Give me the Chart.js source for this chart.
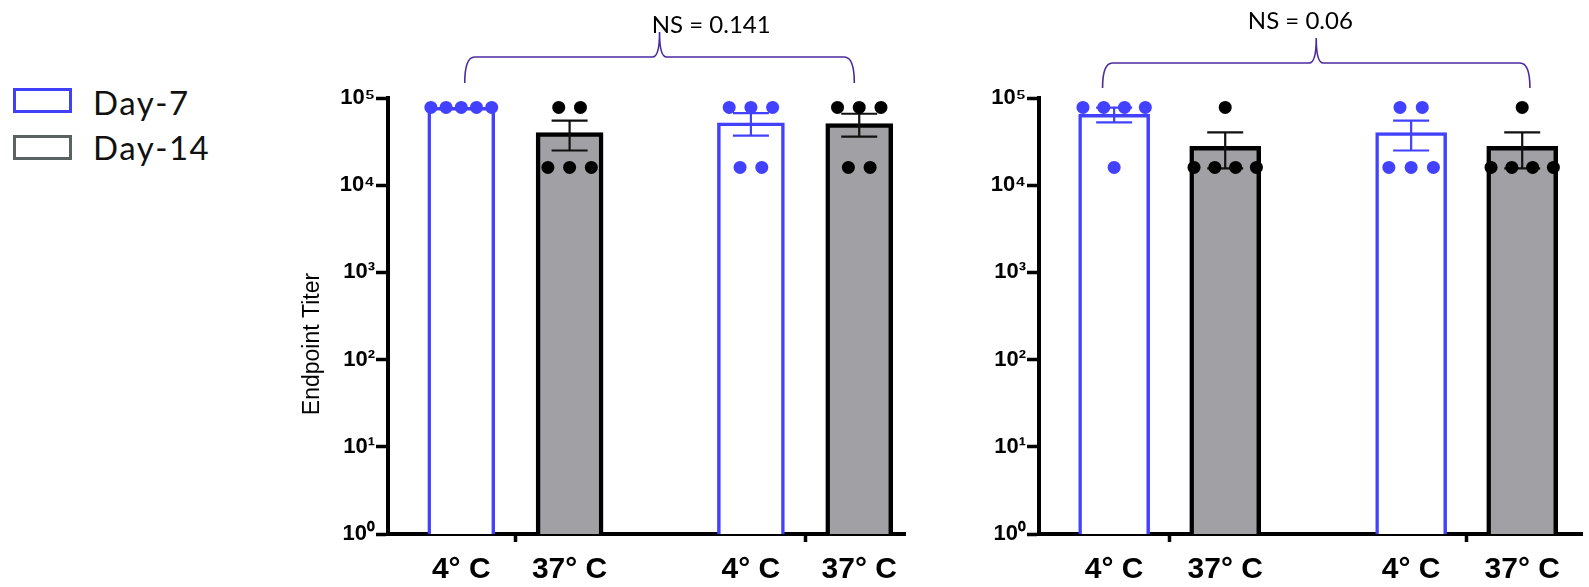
<!DOCTYPE html>
<html>
<head>
<meta charset="utf-8">
<script src="https://cdn.jsdelivr.net/npm/chart.js@4.4.1/dist/chart.umd.min.js"></script>
<style>
  body { margin: 0; background: #fff; width: 1589px; height: 587px; overflow: hidden; position: relative; }
  canvas { position: absolute; top: 0; }
  #leftChart { left: 270px; }
  #rightChart { left: 960px; }
  .box { position: absolute; left: 13px; width: 59px; height: 25px; box-sizing: border-box; border: 3px solid; }
  .txt { position: absolute; left: 93px; font-family: Lato, sans-serif; font-size: 33px; line-height: 33px; letter-spacing: 1.5px; color: #111; }
</style>
</head>
<body>
<div class="box" style="top:88px;border-color:#4040F8"></div>
<div class="txt" id="lg0" style="top:86px"></div>
<div class="box" style="top:135px;border-color:#5B6262"></div>
<div class="txt" id="lg1" style="top:131px"></div>
<canvas id="leftChart" width="650" height="587"></canvas>
<canvas id="rightChart" width="629" height="587"></canvas>
<script>
// values, endpoint titers on a log axis
const barLabels = ['4° C', '37° C', '4° C', '37° C'];
const seriesNames = ['Day-7', 'Day-14'];
const pLabels = ['NS = 0.141', 'NS = 0.06'];
const yTickValues = [1, 10, 100, 1000, 10000, 100000];

const leftMeans = [78000, 40000, 52000, 51000];
const leftSem = [0, 15000, 15000, 15000];
const leftPoints = [
    [78000, 78000, 78000, 78000, 78000],
    [78000, 78000, 16000, 16000, 16000],
    [78000, 78000, 78000, 16000, 16000],
    [78000, 78000, 78000, 16000, 16000]
];

const rightMeans = [65000, 28000, 40000, 28000];
const rightSem = [12500, 12400, 15000, 12400];
const rightPoints = [
    [78000, 78000, 78000, 78000, 16000],
    [78000, 16000, 16000, 16000, 16000],
    [78000, 78000, 16000, 16000, 16000],
    [78000, 16000, 16000, 16000, 16000]
];

const blue = '#4141FF';
const gray = '#A1A0A5';
const sup = ['⁰', '¹', '²', '³', '⁴', '⁵'];

document.getElementById('lg0').textContent = seriesNames[0];
document.getElementById('lg1').textContent = seriesNames[1];

// bar i sits left/right of its group centre (groups at x = 1 and 2)
function barX(i) {
    return Math.floor(i / 2) + 1 + (i % 2 ? 0.187 : -0.187);
}
const tickPos = [barX(0), 1, barX(1), barX(2), 2, barX(3)];
const tickBar = [0, -1, 1, 2, -1, 3];

function buildDatasets(means, sem, points, thick) {
    const sets = [];
    [0, 1].forEach(s => {
        const idx = [s, s + 2];
        sets.push({
            type: 'bar',
            label: seriesNames[s],
            order: 2,
            data: idx.map(i => ({x: barX(i), y: means[i]})),
            sem: idx.map(i => sem[i]),
            errorColor: s ? '#111' : blue,
            backgroundColor: s ? gray : '#fff',
            borderColor: s ? '#000' : blue,
            borderWidth: s ? 4.5 : 3.5,
            barThickness: thick,
            grouped: false
        });
    });
    [0, 1].forEach(s => {
        const pts = [];
        [s, s + 2].forEach(i => {
            // equal values are spread side by side like the prism scatter
            const byVal = {};
            points[i].forEach(v => (byVal[v] = byVal[v] || []).push(v));
            Object.values(byVal).forEach(list => {
                const n = list.length;
                const step = n > 1 ? Math.min(0.075, 0.21 / (n - 1)) : 0;
                list.forEach((v, k) => pts.push({x: barX(i) + (k - (n - 1) / 2) * step, y: v}));
            });
        });
        sets.push({
            type: 'scatter',
            label: seriesNames[s] + ' points',
            order: 1,
            data: pts,
            pointRadius: 6.5,
            pointHoverRadius: 6.5,
            pointBackgroundColor: s ? '#000' : blue,
            pointBorderWidth: 0,
            backgroundColor: s ? '#000' : blue
        });
    });
    return sets;
}

const errorBarPlugin = {
    id: 'errorBars',
    afterDatasetDraw(chart, args) {
        const ds = chart.data.datasets[args.index];
        if (!ds.sem) return;
        const y = chart.scales.y, ctx = chart.ctx;
        ctx.save();
        ctx.strokeStyle = ds.errorColor;
        ctx.lineWidth = 2.2;
        args.meta.data.forEach((bar, i) => {
            const s = ds.sem[i];
            if (!s) return;
            const m = ds.data[i].y;
            const yTop = y.getPixelForValue(m + s), yBot = y.getPixelForValue(m - s);
            ctx.beginPath();
            ctx.moveTo(bar.x, yTop); ctx.lineTo(bar.x, yBot);
            ctx.moveTo(bar.x - 18, yTop); ctx.lineTo(bar.x + 18, yTop);
            ctx.moveTo(bar.x - 18, yBot); ctx.lineTo(bar.x + 18, yBot);
            ctx.stroke();
        });
        ctx.restore();
    }
};

const bracePlugin = {
    id: 'brace',
    afterDraw(chart, args, o) {
        if (!o.text) return;
        const x = chart.scales.x, top = chart.chartArea.top, ctx = chart.ctx;
        const x1 = x.getPixelForValue(o.from), x2 = x.getPixelForValue(o.to), xm = (x1 + x2) / 2;
        const yEnd = top - o.end, yMid = top - o.mid, yPeak = top - o.peak;
        ctx.save();
        ctx.strokeStyle = '#4B2A9E';
        ctx.lineWidth = 1.6;
        ctx.beginPath();
        ctx.moveTo(x1, yEnd);
        ctx.quadraticCurveTo(x1, yMid, x1 + 10, yMid);
        ctx.lineTo(xm - 7, yMid);
        ctx.quadraticCurveTo(xm, yMid, xm, yPeak);
        ctx.quadraticCurveTo(xm, yMid, xm + 7, yMid);
        ctx.lineTo(x2 - 10, yMid);
        ctx.quadraticCurveTo(x2, yMid, x2, yEnd);
        ctx.stroke();
        ctx.font = '24px Lato';
        ctx.fillStyle = '#000';
        ctx.textAlign = 'center';
        ctx.textBaseline = 'middle';
        ctx.fillText(o.text, x.getPixelForValue(o.textAt), top - o.textUp);
        ctx.restore();
    }
};

const yTitlePlugin = {
    id: 'yTitle',
    afterDraw(chart, args, o) {
        if (!o.text) return;
        const a = chart.chartArea, ctx = chart.ctx;
        ctx.save();
        ctx.translate(a.left - o.offsetX, (a.top + a.bottom) / 2 + o.shiftY);
        ctx.rotate(-Math.PI / 2);
        ctx.font = '23px "Liberation Sans", Arial, sans-serif';
        ctx.fillStyle = '#000';
        ctx.textAlign = 'center';
        ctx.textBaseline = 'middle';
        ctx.fillText(o.text, 0, 0);
        ctx.restore();
    }
};

function makeOptions(cfg) {
    return {
        responsive: false,
        animation: false,
        events: [],
        layout: {padding: {top: 98, right: cfg.padRight, left: 0, bottom: 0}},
        plugins: {
            legend: {display: false},
            tooltip: {enabled: false},
            brace: cfg.brace,
            yTitle: cfg.yTitle
        },
        scales: {
            x: {
                type: 'linear',
                min: 0.56,
                max: cfg.xMax,
                offset: false,
                z: 1,
                afterBuildTicks: sc => { sc.ticks = tickPos.map(v => ({value: v})); },
                afterFit: sc => { sc.height = 53; },
                border: {color: '#000', width: 4},
                grid: {
                    offset: false,
                    drawOnChartArea: false,
                    tickLength: 8,
                    tickWidth: 3.5,
                    tickColor: c => (c.index % 3 === 1 ? '#000' : 'rgba(0,0,0,0)')
                },
                ticks: {
                    autoSkip: false,
                    maxRotation: 0,
                    padding: 10,
                    color: '#000',
                    font: {family: '"Liberation Sans", Arial, sans-serif', size: 30, weight: 'bold'},
                    callback: (v, i) => (tickBar[i] < 0 ? '' : barLabels[tickBar[i]])
                }
            },
            y: {
                type: 'logarithmic',
                min: 1,
                max: 100000,
                afterBuildTicks: sc => { sc.ticks = yTickValues.map(v => ({value: v})); },
                afterFit: sc => { sc.width = cfg.yWidth; },
                border: {color: '#000', width: 4},
                grid: {drawOnChartArea: false, tickLength: 12, tickWidth: 3.5, tickColor: '#000'},
                ticks: {
                    padding: 1,
                    color: '#000',
                    font: {family: '"Liberation Sans", Arial, sans-serif', size: 22, weight: 'bold'},
                    callback: v => '10' + sup[Math.round(Math.log10(v))]
                }
            }
        }
    };
}

new Chart(document.getElementById('leftChart'), {
    type: 'bar',
    data: {datasets: buildDatasets(leftMeans, leftSem, leftPoints, 67)},
    options: makeOptions({
        padRight: 15, xMax: 2.345, yWidth: 118,
        brace: {text: pLabels[0], from: 0.825, to: 2.17, end: 15, mid: 41, peak: 66, textAt: 1.676, textUp: 73},
        yTitle: {text: 'Endpoint Titer', offsetX: 75, shiftY: 28}
    }),
    plugins: [errorBarPlugin, bracePlugin, yTitlePlugin]
});

new Chart(document.getElementById('rightChart'), {
    type: 'bar',
    data: {datasets: buildDatasets(rightMeans, rightSem, rightPoints, 71)},
    options: makeOptions({
        padRight: 0, xMax: 2.39, yWidth: 79,
        brace: {text: pLabels[1], from: 0.774, to: 2.213, end: 10, mid: 35, peak: 60, textAt: 1.44, textUp: 77},
        yTitle: {}
    }),
    plugins: [errorBarPlugin, bracePlugin, yTitlePlugin]
});
</script>
</body>
</html>
